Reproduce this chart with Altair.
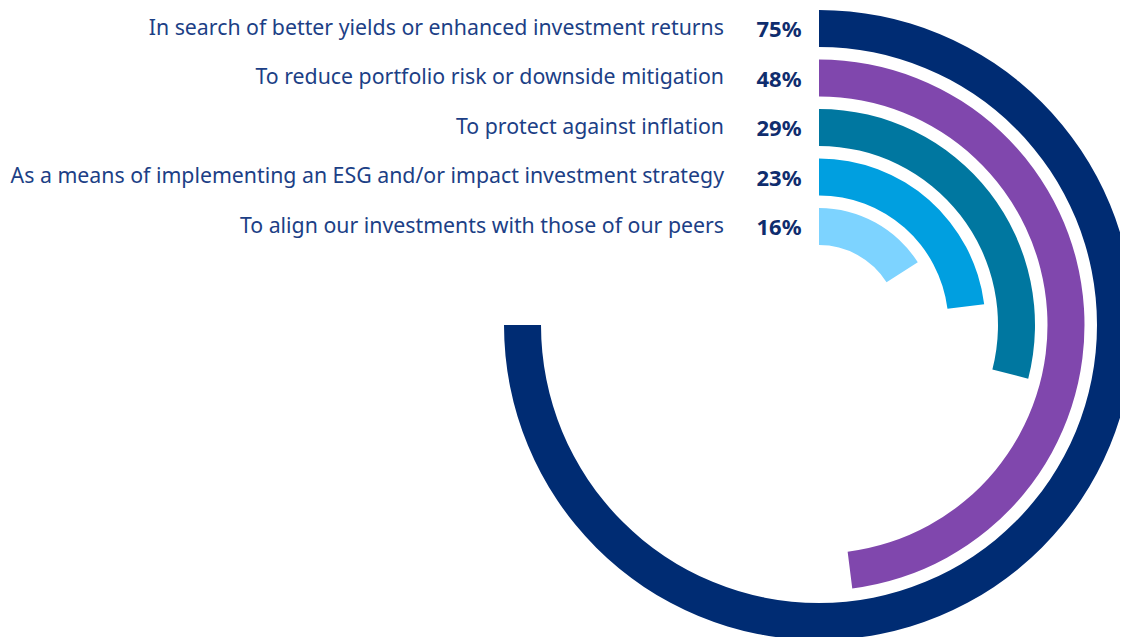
import math
import altair as alt
import pandas as pd

categories = [
    "In search of better yields or enhanced investment returns",
    "To reduce portfolio risk or downside mitigation",
    "To protect against inflation",
    "As a means of implementing an ESG and/or impact investment strategy",
    "To align our investments with those of our peers",
]
values = [75, 48, 29, 23, 16]
colors = ["#002C73", "#8047AD", "#0077A0", "#009FE0", "#7DD3FF"]

df = pd.DataFrame({
    "category": categories,
    "value": values,
    "idx": list(range(len(categories))),
    "color": colors,
})
df["pct"] = df["value"].astype(str) + "%"

ring_scale = alt.Scale(type="linear", domain=[0, 4], range=[315, 117])
y_scale = alt.Scale(type="linear", domain=[0, 4], range=[20.5, 218.5])

base = alt.Chart(df)

arcs = base.transform_calculate(inner="datum.idx + 37/49.5").mark_arc(
    stroke=None
).encode(
    theta=alt.Theta("value:Q", scale=alt.Scale(domain=[0, 100], range=[0, 2 * math.pi])),
    theta2=alt.Theta2(datum=0),
    radius=alt.Radius("idx:Q", scale=ring_scale),
    radius2=alt.Radius2("inner:Q"),
    color=alt.Color("color:N", scale=None),
    x=alt.value(811),
    y=alt.value(317),
)

labels = base.mark_text(
    align="right", baseline="middle", font="Noto Sans", fontSize=21.3,
    color="#1C3F86", dy=0,
).encode(
    x=alt.value(716),
    y=alt.Y("idx:Q", scale=y_scale, axis=None),
    text="category:N",
)

pcts = base.mark_text(
    align="center", baseline="middle", font="Noto Sans", fontSize=22,
    fontWeight="bold", color="#0F2D6E", dy=1.5,
).encode(
    x=alt.value(771),
    y=alt.Y("idx:Q", scale=y_scale, axis=None),
    text="pct:N",
)

chart = alt.layer(arcs, labels, pcts).properties(
    width=1112, height=629, padding=0,
    autosize=alt.AutoSizeParams(type="none"),
).configure_view(stroke=None)

chart.save("out.html", embed_options={"renderer": "svg", "actions": False})
